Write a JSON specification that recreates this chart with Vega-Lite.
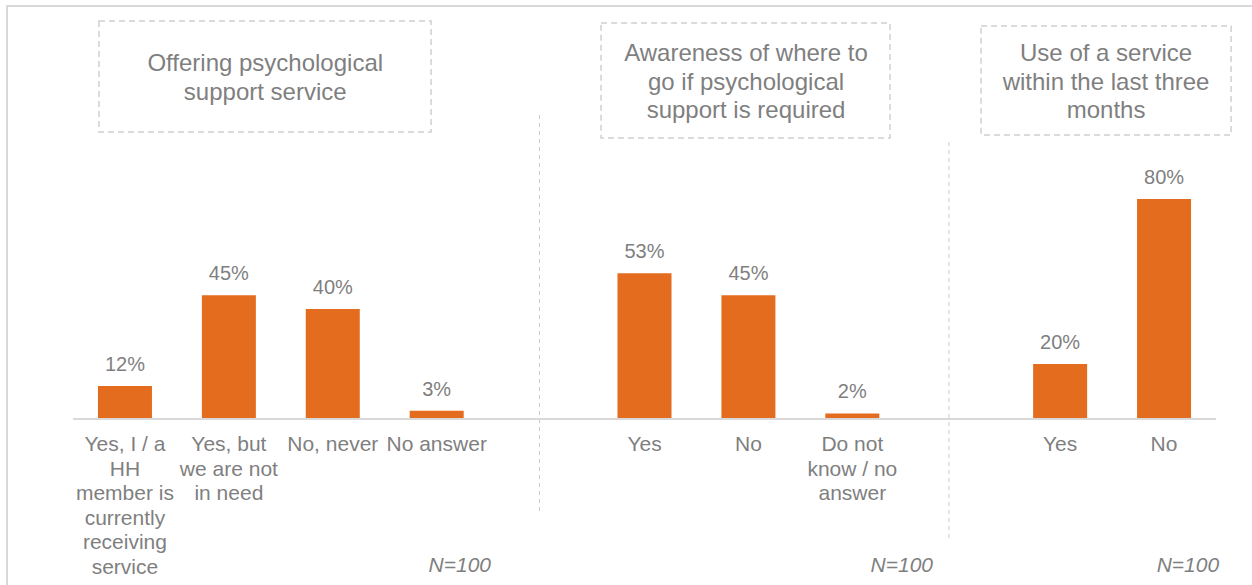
{
  "$schema": "https://vega.github.io/schema/vega-lite/v6.json",
  "width": 1143,
  "height": 413,
  "autosize": {"type": "none"},
  "padding": {"left": 73, "top": 6, "right": 36, "bottom": 166},
  "background": "white",
  "config": {"view": {"stroke": null}, "font": "Liberation Sans"},
  "datasets": {
    "responses": [
      {"slot": 1, "panel": "Offering psychological support service", "answer": "Yes, I / a\nHH\nmember is\ncurrently\nreceiving\nservice", "share": 0.12},
      {"slot": 2, "panel": "Offering psychological support service", "answer": "Yes, but\nwe are not\nin need", "share": 0.45},
      {"slot": 3, "panel": "Offering psychological support service", "answer": "No, never", "share": 0.40},
      {"slot": 4, "panel": "Offering psychological support service", "answer": "No answer", "share": 0.03},
      {"slot": 6, "panel": "Awareness of where to go if psychological support is required", "answer": "Yes", "share": 0.53},
      {"slot": 7, "panel": "Awareness of where to go if psychological support is required", "answer": "No", "share": 0.45},
      {"slot": 8, "panel": "Awareness of where to go if psychological support is required", "answer": "Do not\nknow / no\nanswer", "share": 0.02},
      {"slot": 10, "panel": "Use of a service within the last three months", "answer": "Yes", "share": 0.20},
      {"slot": 11, "panel": "Use of a service within the last three months", "answer": "No", "share": 0.80}
    ],
    "panels": [
      {"title": "Offering psychological\nsupport service", "bx0": 0.75, "bx1": 3.946, "by0": 1.447, "by1": 1.044, "tx": 2.35, "ty": 1.2895, "nx": 4.523, "n": "N=100"},
      {"title": "Awareness of where to\ngo if psychological\nsupport is required", "bx0": 5.582, "bx1": 8.363, "by0": 1.44, "by1": 1.022, "tx": 6.977, "ty": 1.3258, "nx": 8.777, "n": "N=100"},
      {"title": "Use of a service\nwithin the last three\nmonths", "bx0": 9.239, "bx1": 11.645, "by0": 1.429, "by1": 1.033, "tx": 10.442, "ty": 1.3258, "nx": 11.53, "n": "N=100"}
    ],
    "separators": [
      {"sx": 4.99, "top": 1.105, "bottom": -0.349},
      {"sx": 8.93, "top": 1.007, "bottom": -0.444}
    ]
  },
  "layer": [
    {
      "data": {"values": [{}]},
      "mark": {"type": "rect", "filled": false, "stroke": "#d9d9d9", "strokeWidth": 2},
      "encoding": {
        "x": {"datum": -0.135, "type": "quantitative", "scale": {"domain": [0.5, 11.5], "nice": false, "zero": false, "padding": 0}, "axis": null},
        "x2": {"datum": 13},
        "y": {"datum": 1.5018, "type": "quantitative", "scale": {"domain": [0, 1.5018], "nice": false, "padding": 0}, "axis": null},
        "y2": {"datum": -1}
      }
    },
    {
      "data": {"name": "panels"},
      "mark": {"type": "rect", "filled": false, "stroke": "#d0d0d0", "strokeWidth": 1.5, "strokeDash": [6, 4]},
      "encoding": {
        "x": {"field": "bx0", "type": "quantitative"},
        "x2": {"field": "bx1"},
        "y": {"field": "by0", "type": "quantitative"},
        "y2": {"field": "by1"}
      }
    },
    {
      "data": {"name": "panels"},
      "mark": {"type": "text", "fontSize": 24, "color": "#7f7f7f", "lineBreak": "\n", "lineHeight": 28.5, "align": "center", "baseline": "middle"},
      "encoding": {
        "x": {"field": "tx", "type": "quantitative"},
        "y": {"field": "ty", "type": "quantitative"},
        "text": {"field": "title"}
      }
    },
    {
      "data": {"name": "separators"},
      "mark": {"type": "rule", "color": "#c8c8c8", "strokeWidth": 1, "strokeDash": [4, 4]},
      "encoding": {
        "x": {"field": "sx", "type": "quantitative"},
        "y": {"field": "top", "type": "quantitative"},
        "y2": {"field": "bottom"}
      }
    },
    {
      "data": {"name": "responses"},
      "mark": {"type": "bar", "orient": "vertical", "width": 54, "color": "#E36C1E"},
      "encoding": {
        "x": {"field": "slot", "type": "quantitative"},
        "y": {"field": "share", "type": "quantitative"}
      }
    },
    {
      "data": {"values": [{}]},
      "mark": {"type": "rule", "color": "#d9d9d9", "strokeWidth": 2},
      "encoding": {
        "x": {"datum": 0.5, "type": "quantitative"},
        "x2": {"datum": 11.5},
        "y": {"datum": 0, "type": "quantitative"}
      }
    },
    {
      "data": {"name": "responses"},
      "mark": {"type": "text", "fontSize": 20, "color": "#7f7f7f", "align": "center", "baseline": "bottom", "dy": -11},
      "encoding": {
        "x": {"field": "slot", "type": "quantitative"},
        "y": {"field": "share", "type": "quantitative"},
        "text": {"field": "share", "type": "quantitative", "format": ".0%"}
      }
    },
    {
      "data": {"name": "responses"},
      "mark": {"type": "text", "fontSize": 21, "color": "#7f7f7f", "align": "center", "baseline": "top", "dy": 15, "lineBreak": "\n", "lineHeight": 24.5},
      "encoding": {
        "x": {"field": "slot", "type": "quantitative"},
        "y": {"datum": 0, "type": "quantitative"},
        "text": {"field": "answer"}
      }
    },
    {
      "data": {"name": "panels"},
      "mark": {"type": "text", "fontSize": 21, "fontStyle": "italic", "color": "#7f7f7f", "align": "right", "baseline": "middle"},
      "encoding": {
        "x": {"field": "nx", "type": "quantitative"},
        "y": {"datum": -0.535, "type": "quantitative"},
        "text": {"field": "n"}
      }
    }
  ]
}
